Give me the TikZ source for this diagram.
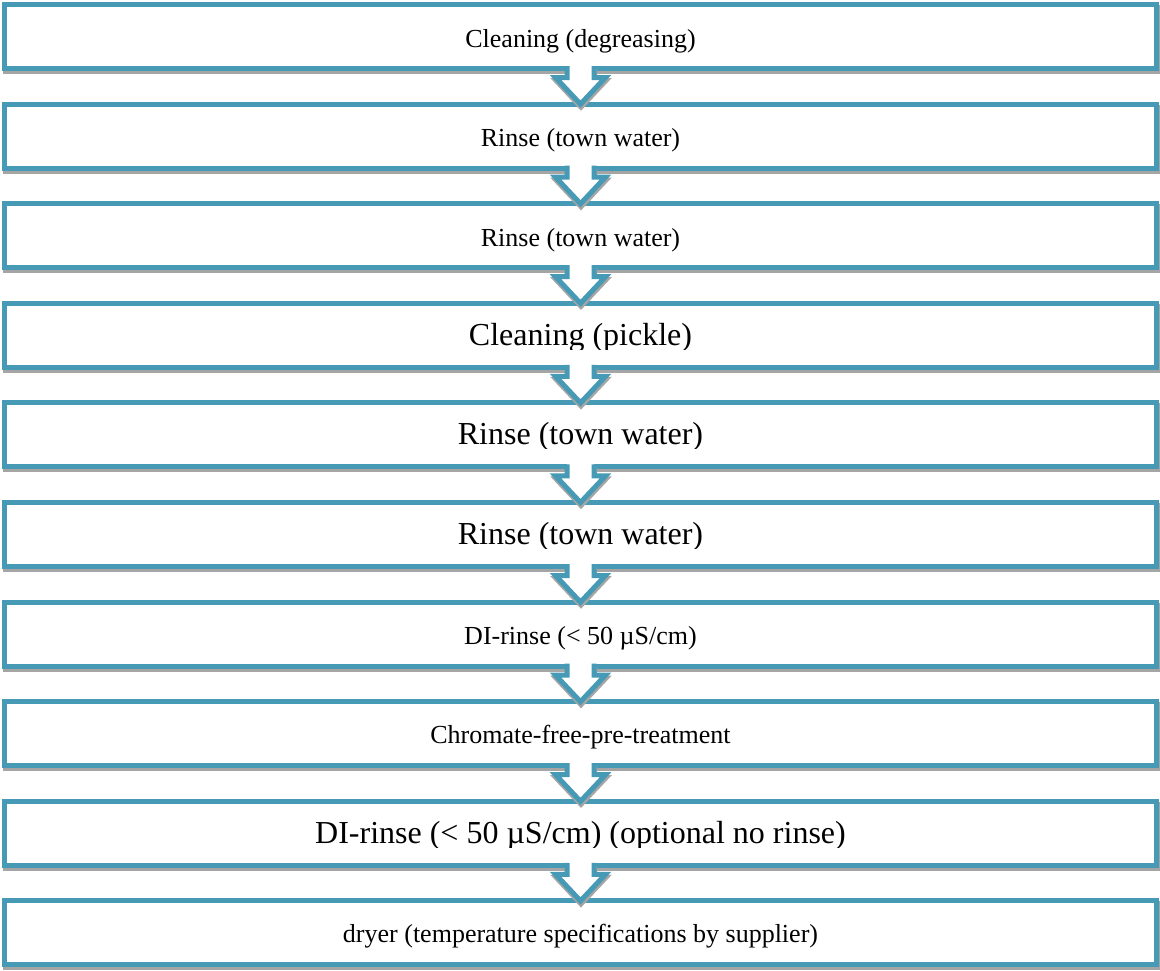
\documentclass[tikz,border=0pt]{standalone}
\usepackage{fontspec}
\setmainfont{Liberation Serif}
\usetikzlibrary{calc}
\definecolor{tealc}{RGB}{70,154,181}
\definecolor{shadec}{RGB}{165,165,165}
\tikzset{
  stepbox/.style={draw=tealc, line width=5pt, fill=white, minimum width=1152pt, minimum height=64pt, inner sep=0pt, outer sep=0pt},
  stepshade/.style={draw=shadec, fill=shadec, line width=5pt, minimum width=1152pt, minimum height=64pt, inner sep=0pt, outer sep=0pt},
  smalltxt/.style={font=\fontsize{26}{30}\selectfont, anchor=base, inner sep=0pt},
  bigtxt/.style={font=\fontsize{32}{36}\selectfont, anchor=base, inner sep=0pt},
  flowline/.style={draw=tealc, line width=5pt, line join=miter},
  flowshade/.style={draw=shadec, line width=5pt, line join=miter},
}
\newcommand\arrowpts[4]{($(#1.south)+(-13.5+#3,-2.5+#4)$) -- ($(#1.south)+(-13.5+#3,9+#4)$) -- ($(#1.south)+(-25+#3,9+#4)$) -- ($(#2.north)+(#3,#4)$) -- ($(#1.south)+(25+#3,9+#4)$) -- ($(#1.south)+(13.5+#3,9+#4)$) -- ($(#1.south)+(13.5+#3,-2.5+#4)$)}
\newcommand\flowarrow[2]{%
  \fill[shadec] \arrowpts{#1}{#2}{0.5}{3} -- cycle;
  \draw[flowshade] \arrowpts{#1}{#2}{0.5}{3};
  \fill[white] \arrowpts{#1}{#2}{0}{-0.2} -- cycle;
  \draw[flowline] \arrowpts{#1}{#2}{0}{0};
}
\begin{document}
\begin{tikzpicture}[x=1pt,y=-1pt]
\useasboundingbox[fill=white] (0,0) rectangle (1160,970);
% shadows
\node[stepshade] (s1) at (581,39.5) {};
\node[stepshade] (s2) at (581,139.1) {};
\node[stepshade] (s3) at (581,238.7) {};
\node[stepshade] (s4) at (581,338.3) {};
\node[stepshade] (s5) at (581,437.9) {};
\node[stepshade] (s6) at (581,537.5) {};
\node[stepshade] (s7) at (581,637.1) {};
\node[stepshade] (s8) at (581,736.7) {};
\node[stepshade] (s9) at (581,836.3) {};
\node[stepshade] (s10) at (581,935.9) {};
% boxes
\node[stepbox] (b1) at (580.5,36.5) {};
\node[stepbox] (b2) at (580.5,136.1) {};
\node[stepbox] (b3) at (580.5,235.7) {};
\node[stepbox] (b4) at (580.5,335.3) {};
\node[stepbox] (b5) at (580.5,434.9) {};
\node[stepbox] (b6) at (580.5,534.5) {};
\node[stepbox] (b7) at (580.5,634.1) {};
\node[stepbox] (b8) at (580.5,733.7) {};
\node[stepbox] (b9) at (580.5,833.3) {};
\node[stepbox] (b10) at (580.5,932.9) {};
% arrows
\flowarrow{b1}{b2}
\flowarrow{b2}{b3}
\flowarrow{b3}{b4}
\flowarrow{b4}{b5}
\flowarrow{b5}{b6}
\flowarrow{b6}{b7}
\flowarrow{b7}{b8}
\flowarrow{b8}{b9}
\flowarrow{b9}{b10}
% texts
\node[smalltxt] (t1) at (580.5,47) {Cleaning (degreasing)};
\node[smalltxt] (t2) at (580.5,146.6) {Rinse (town water)};
\node[smalltxt] (t3) at (580.5,246.2) {Rinse (town water)};
\begin{scope}
\clip (4.5,300) rectangle (1156.5,349.3);
\node[bigtxt] (t4) at (580.5,345.3) {Cleaning (pickle)};
\end{scope}
\begin{scope}
\clip (4.5,400) rectangle (1156.5,448.9);
\node[bigtxt] (t5) at (580.5,444.9) {Rinse (town water)};
\end{scope}
\begin{scope}
\clip (4.5,500) rectangle (1156.5,548.5);
\node[bigtxt] (t6) at (580.5,544.5) {Rinse (town water)};
\end{scope}
\node[smalltxt] (t7) at (580.5,644.1) {DI-rinse (< 50 µS/cm)};
\node[smalltxt] (t8) at (580.5,743.7) {Chromate-free-pre-treatment};
\begin{scope}
\clip (4.5,800) rectangle (1156.5,847.3);
\node[bigtxt] (t9) at (580.5,843.3) {DI-rinse (< 50 µS/cm) (optional no rinse)};
\end{scope}
\node[smalltxt] (t10) at (580.5,942.9) {dryer (temperature specifications by supplier)};
\end{tikzpicture}
\end{document}
